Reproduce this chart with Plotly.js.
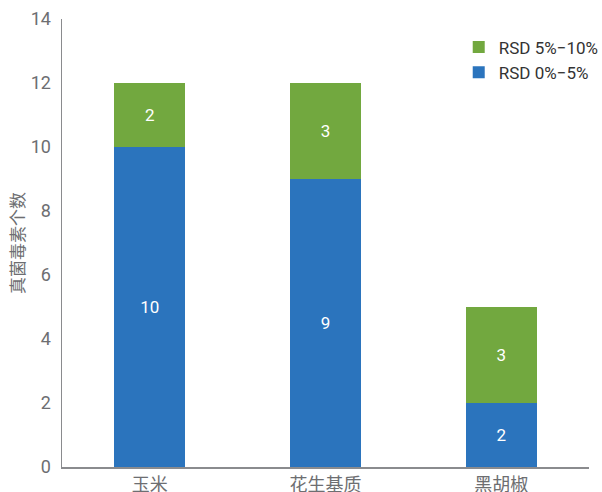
<!DOCTYPE html>
<html>
<head>
<meta charset="utf-8">
<script src="https://cdn.plot.ly/plotly-3.0.1.min.js"></script>
<style>
  html, body { margin: 0; padding: 0; background: #fff; }
  #chart { width: 602px; height: 492px; }
</style>
</head>
<body>
<div id="chart"></div>
<script>
// Sample matrices
const categories = ['玉米', '花生基质', '黑胡椒'];
// Number of mycotoxins per RSD band
const rsdLow = [10, 9, 2];   // RSD 0%–5%
const rsdHigh = [2, 3, 3];   // RSD 5%–10%
const seriesNames = ['RSD 0%\u22125%', 'RSD 5%\u221210%'];
const yTicks = [0, 2, 4, 6, 8, 10, 12, 14];

const FONT = 'Roboto, "Noto Sans CJK SC", sans-serif';
const GREY = '#6d6e71';

const traces = [
  {
    type: 'bar',
    name: seriesNames[0],
    x: categories,
    y: rsdLow,
    text: rsdLow.map(String),
    textposition: 'inside',
    insidetextanchor: 'middle',
    textfont: { color: '#ffffff', size: 17, family: FONT },
    marker: { color: '#2b74bd', line: { width: 0 } },
    hoverinfo: 'x+y+name'
  },
  {
    type: 'bar',
    name: seriesNames[1],
    x: categories,
    y: rsdHigh,
    text: rsdHigh.map(String),
    textposition: 'inside',
    insidetextanchor: 'middle',
    textfont: { color: '#ffffff', size: 17, family: FONT },
    marker: { color: '#72a83f', line: { width: 0 } },
    hoverinfo: 'x+y+name'
  }
];

const layout = {
  width: 602,
  height: 492,
  // fixed plot box; the legend sits in the top-right corner without resizing it
  margin: { l: 62, r: 13, t: 19, b: 25, autoexpand: false },
  paper_bgcolor: '#ffffff',
  plot_bgcolor: '#ffffff',
  font: { family: FONT, color: GREY, size: 18 },
  barmode: 'stack',
  bargap: 0.597,
  showlegend: true,
  legend: {
    xref: 'container',
    yref: 'container',
    x: 0.762,
    xanchor: 'left',
    y: 0.94,
    yanchor: 'top',
    traceorder: 'reversed',
    font: { family: FONT, size: 17, color: '#333333' },
    bgcolor: 'rgba(0,0,0,0)',
    itemwidth: 30,
    tracegroupgap: 0
  },
  xaxis: {
    type: 'category',
    range: [-0.5, 2.5],
    showline: true,
    linecolor: '#8a8b8e',
    linewidth: 2,
    showgrid: false,
    zeroline: false,
    ticks: '',
    tickfont: { family: FONT, size: 18, color: GREY },
    fixedrange: true
  },
  yaxis: {
    range: [0, 14],
    tickvals: yTicks,
    ticktext: yTicks.map(String),
    showline: true,
    linecolor: '#8a8b8e',
    linewidth: 1.5,
    showgrid: false,
    zeroline: false,
    ticks: '',
    ticklabelstandoff: 6,
    tickfont: { family: FONT, size: 18, color: GREY },
    title: {
      text: '真菌毒素个数',
      font: { family: FONT, size: 17, color: GREY },
      standoff: 1
    },
    fixedrange: true
  }
};

Plotly.newPlot('chart', traces, layout, { displayModeBar: false, staticPlot: true });
</script>
</body>
</html>
